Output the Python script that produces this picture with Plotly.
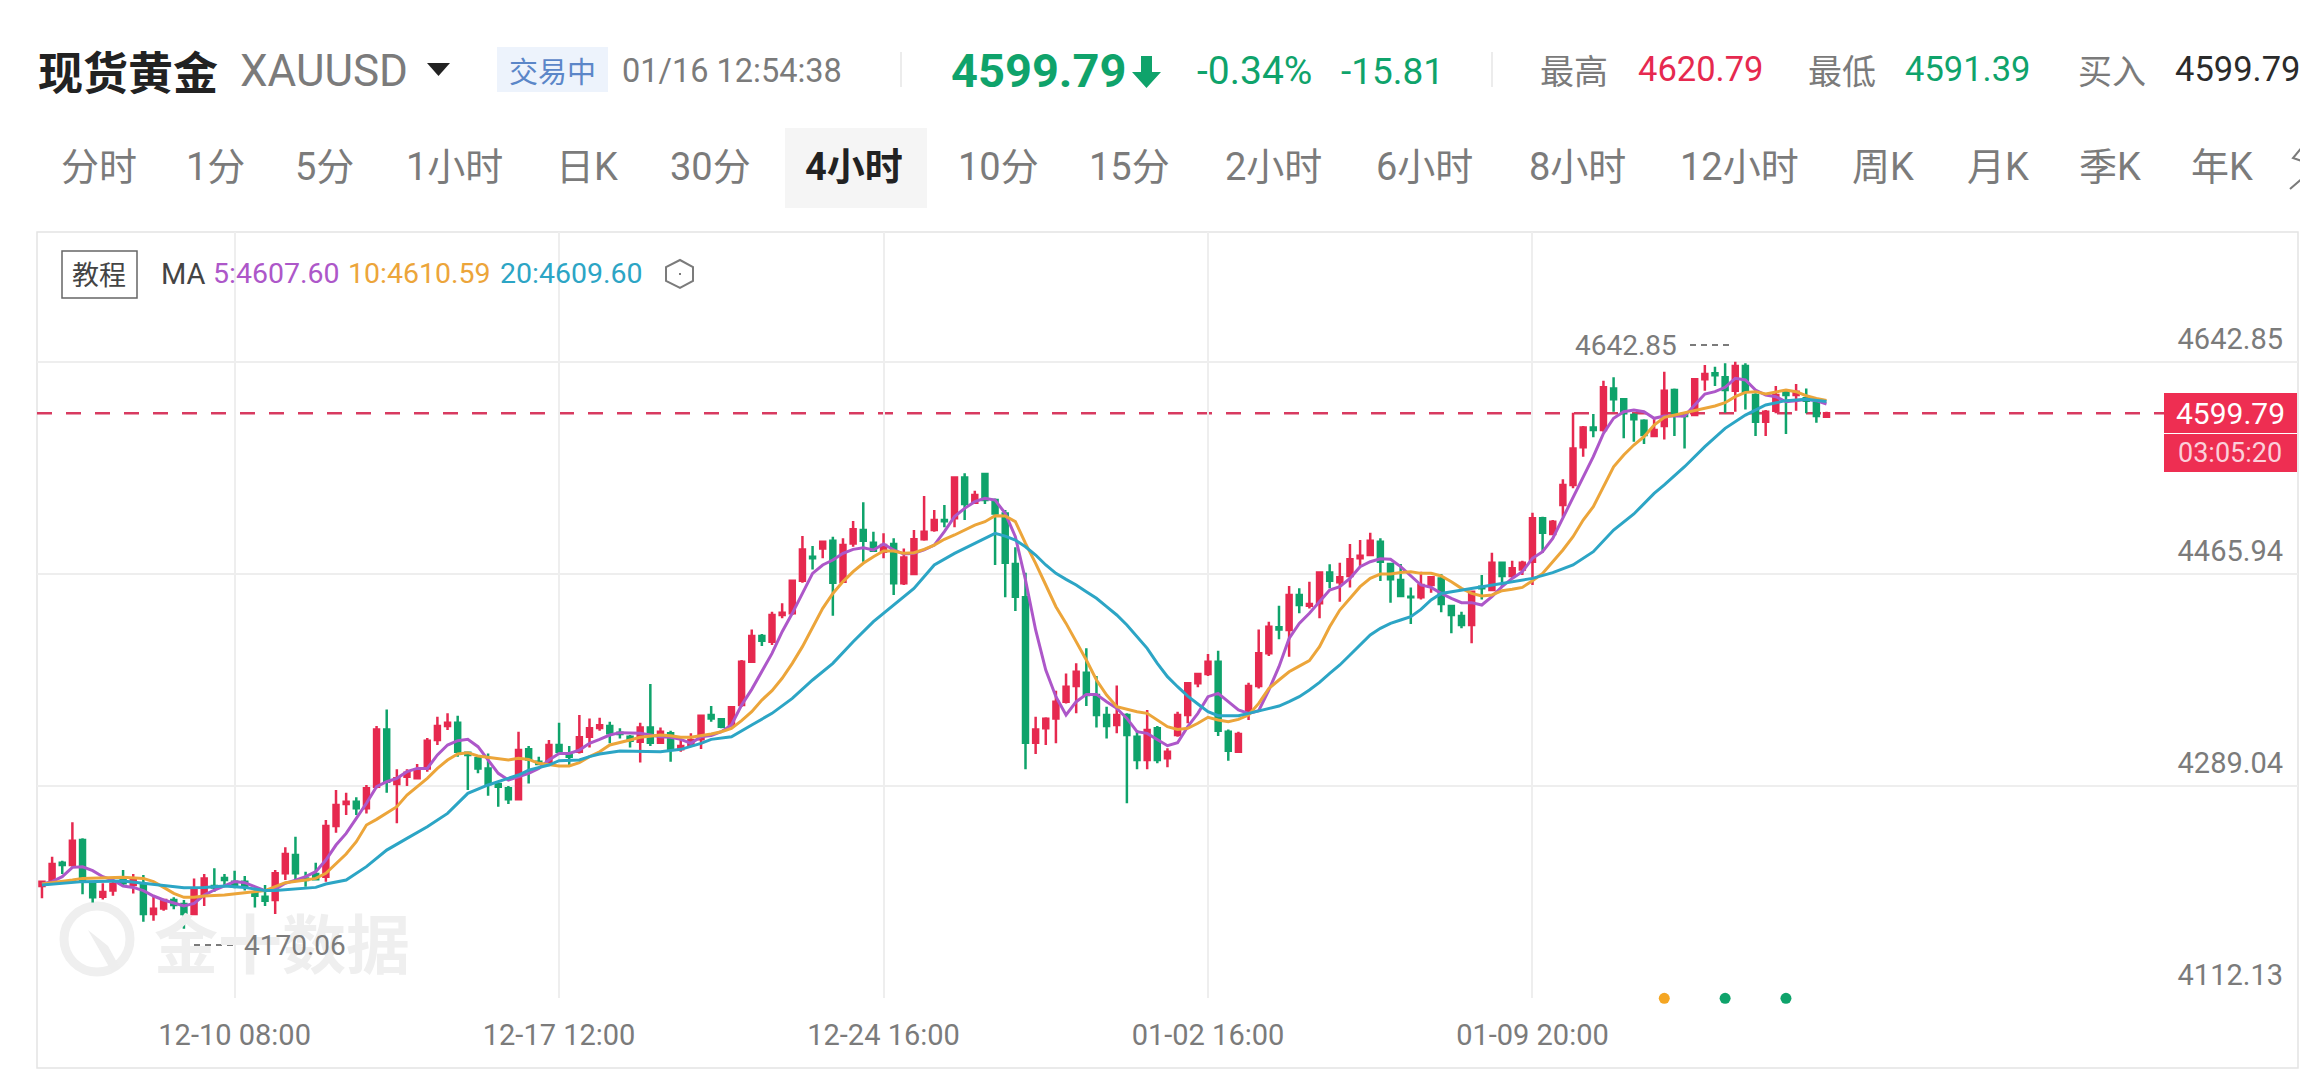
"""XAUUSD 4h candles with MA lines, trading terminal look."""
import plotly.graph_objects as go

# the page body keeps its 8px margin, so the figure is 8px smaller and shifted
W, H = 2300, 1072
PAGE = 8
FONT = "Roboto, Noto Sans CJK SC, sans-serif"
CJK = "Noto Sans CJK SC, sans-serif"

GRAY = "#7b7b7b"
RED = "#e6294f"
GREEN = "#0fa36b"
PURPLE = "#ad57c9"
ORANGE = "#eca53a"
TEAL = "#2ca5c5"

opens = [
    4205.7, 4210.2, 4225.2, 4223.2, 4244.1, 4207.4, 4196.8, 4201.9, 4211.3, 4206.6, 4206.6, 4182.4, 4187.1, 4194.1, 4190.7,
    4182.4, 4198.2, 4205.7, 4212.4, 4209.4, 4209.4, 4200.5, 4196.8, 4194.1, 4216.3, 4231.6, 4212.1, 4215.7, 4213.5, 4255.8,
    4274.1, 4276.0, 4270.5, 4288.6, 4336.3, 4290.8, 4296.9, 4295.5, 4303.8, 4327.5, 4339.1, 4341.9, 4316.9, 4312.2, 4303.8,
    4290.8, 4287.2, 4278.0, 4319.7, 4309.4, 4308.0, 4323.3, 4315.0, 4317.7, 4330.2, 4337.5, 4339.1, 4333.6, 4330.2, 4326.1,
    4338.0, 4325.2, 4333.0, 4319.7, 4323.3, 4328.0, 4348.3, 4344.7, 4340.0, 4356.6, 4392.8, 4414.2, 4409.4, 4431.7, 4433.1,
    4460.3, 4480.3, 4487.2, 4493.6, 4459.5, 4491.4, 4502.5, 4492.0, 4484.5, 4490.9, 4458.1, 4465.8, 4494.8, 4502.5, 4510.9,
    4512.3, 4546.4, 4525.3, 4549.2, 4527.5, 4516.4, 4474.2, 4446.4, 4325.2, 4337.2, 4345.5, 4359.4, 4372.5, 4383.6, 4365.0,
    4348.3, 4340.0, 4348.3, 4330.2, 4310.8, 4337.2, 4312.2, 4331.6, 4348.3, 4374.7, 4382.5, 4392.8, 4334.4, 4317.7, 4351.1,
    4372.5, 4399.7, 4421.4, 4419.2, 4448.3, 4439.4, 4441.4, 4467.2, 4458.9, 4464.2, 4478.9, 4481.7, 4492.8, 4474.2, 4460.9,
    4446.9, 4446.4, 4456.7, 4462.2, 4439.2, 4430.8, 4423.3, 4455.3, 4452.5, 4475.3, 4464.2, 4469.7, 4476.1, 4512.3, 4499.2,
    4523.4, 4540.1, 4571.5, 4588.1, 4585.9, 4620.6, 4611.5, 4598.4, 4593.7, 4580.9, 4589.2, 4619.3, 4599.8, 4598.4, 4628.2,
    4633.2, 4629.8, 4618.7, 4639.3, 4615.1, 4592.9, 4602.0, 4617.9, 4615.1, 4612.3, 4608.7, 4597.0,
]
highs = [
    4210.2, 4230.2, 4226.9, 4258.8, 4245.5, 4208.0, 4208.0, 4210.7, 4219.1, 4215.7, 4214.9, 4198.2, 4194.6, 4196.3, 4194.1,
    4212.1, 4215.7, 4220.5, 4215.7, 4218.5, 4214.1, 4202.4, 4206.6, 4219.1, 4238.0, 4246.9, 4217.7, 4225.2, 4260.8, 4285.8,
    4283.6, 4279.7, 4289.9, 4339.1, 4353.0, 4303.0, 4303.0, 4307.4, 4329.1, 4346.9, 4349.7, 4347.7, 4317.7, 4313.0, 4316.3,
    4291.3, 4289.1, 4334.4, 4322.5, 4313.6, 4327.5, 4341.9, 4322.5, 4348.3, 4345.5, 4346.1, 4342.7, 4337.2, 4331.6, 4341.9,
    4374.1, 4338.0, 4335.2, 4327.5, 4333.0, 4348.3, 4355.8, 4345.5, 4355.2, 4394.2, 4419.7, 4415.8, 4434.4, 4441.4, 4460.9,
    4497.5, 4489.2, 4493.6, 4497.0, 4495.6, 4510.0, 4525.6, 4501.2, 4499.8, 4495.6, 4487.2, 4502.5, 4530.9, 4519.2, 4523.4,
    4547.0, 4549.8, 4535.3, 4549.2, 4528.9, 4519.2, 4488.1, 4467.0, 4346.9, 4346.4, 4368.6, 4383.0, 4391.4, 4403.9, 4380.8,
    4355.2, 4373.0, 4349.7, 4335.8, 4352.5, 4339.1, 4320.5, 4351.1, 4375.3, 4383.0, 4399.2, 4401.9, 4336.3, 4334.4, 4375.3,
    4419.7, 4426.1, 4439.4, 4455.8, 4453.9, 4459.5, 4467.8, 4473.9, 4475.3, 4490.9, 4494.2, 4500.3, 4495.6, 4474.8, 4474.2,
    4454.7, 4467.8, 4463.6, 4465.8, 4440.0, 4434.5, 4451.1, 4465.0, 4483.6, 4476.1, 4477.0, 4477.0, 4517.0, 4513.7, 4510.9,
    4544.8, 4600.4, 4589.2, 4599.3, 4627.0, 4629.8, 4611.5, 4599.8, 4594.8, 4596.5, 4634.5, 4620.6, 4599.8, 4629.0, 4640.1,
    4638.7, 4641.5, 4642.85, 4641.5, 4616.5, 4602.6, 4622.6, 4619.3, 4624.3, 4620.6, 4609.5, 4601.2,
]
lows = [
    4195.5, 4208.0, 4215.7, 4221.8, 4198.8, 4192.1, 4194.6, 4197.7, 4205.2, 4199.6, 4176.0, 4176.8, 4185.2, 4186.3, 4170.06,
    4182.4, 4189.1, 4201.0, 4205.7, 4203.8, 4201.9, 4187.9, 4189.1, 4182.4, 4210.7, 4209.4, 4205.2, 4210.7, 4209.4, 4250.2,
    4264.9, 4264.9, 4266.3, 4287.2, 4283.6, 4258.0, 4289.1, 4295.5, 4301.1, 4323.3, 4335.8, 4313.6, 4285.8, 4299.7, 4281.1,
    4271.9, 4274.1, 4277.4, 4291.3, 4306.6, 4306.6, 4316.9, 4306.6, 4316.3, 4321.3, 4335.2, 4324.7, 4328.8, 4321.3, 4308.8,
    4322.5, 4324.7, 4309.4, 4317.7, 4322.5, 4319.9, 4342.7, 4337.2, 4338.6, 4355.2, 4391.9, 4405.8, 4406.7, 4428.9, 4431.7,
    4458.6, 4469.7, 4478.9, 4431.1, 4458.6, 4488.6, 4476.1, 4484.5, 4478.9, 4448.3, 4456.7, 4465.0, 4493.6, 4501.2, 4504.8,
    4504.8, 4510.9, 4524.2, 4524.2, 4473.4, 4446.4, 4435.0, 4303.0, 4315.8, 4323.3, 4324.7, 4358.0, 4349.7, 4355.8, 4338.0,
    4328.8, 4333.0, 4274.7, 4303.0, 4303.0, 4308.0, 4304.7, 4330.2, 4341.4, 4371.4, 4380.8, 4330.8, 4310.2, 4317.7, 4344.1,
    4370.5, 4397.5, 4411.4, 4396.9, 4433.1, 4437.2, 4428.9, 4453.9, 4442.8, 4454.7, 4472.0, 4480.9, 4460.0, 4441.9, 4446.9,
    4424.2, 4444.7, 4450.3, 4433.9, 4416.4, 4420.6, 4408.1, 4444.7, 4452.0, 4455.3, 4462.2, 4465.0, 4456.7, 4483.6, 4498.4,
    4513.7, 4537.3, 4563.7, 4579.8, 4584.5, 4601.2, 4579.0, 4576.2, 4574.2, 4580.4, 4578.1, 4580.9, 4570.6, 4597.6, 4618.7,
    4622.6, 4600.4, 4601.2, 4603.1, 4580.9, 4580.9, 4599.8, 4582.6, 4602.0, 4599.8, 4592.0, 4596.5,
]
closes = [
    4209.4, 4224.1, 4223.2, 4243.5, 4210.7, 4196.3, 4200.7, 4207.4, 4208.0, 4210.7, 4182.4, 4186.8, 4194.1, 4189.9, 4182.4,
    4202.4, 4212.1, 4204.6, 4210.7, 4205.2, 4205.2, 4197.7, 4193.5, 4216.3, 4232.4, 4216.3, 4210.7, 4211.3, 4255.8, 4273.3,
    4276.0, 4270.5, 4287.2, 4336.3, 4292.7, 4295.5, 4300.2, 4302.4, 4326.9, 4339.1, 4341.9, 4317.7, 4314.9, 4303.8, 4290.8,
    4288.6, 4278.0, 4319.1, 4311.3, 4307.5, 4323.3, 4317.7, 4313.6, 4329.7, 4337.2, 4339.7, 4333.0, 4332.5, 4326.9, 4338.0,
    4325.2, 4334.4, 4319.7, 4322.5, 4327.5, 4347.7, 4345.5, 4338.6, 4354.7, 4392.8, 4414.2, 4410.3, 4431.7, 4433.6, 4460.3,
    4486.4, 4478.9, 4492.8, 4458.6, 4490.0, 4503.1, 4493.6, 4485.3, 4490.0, 4458.1, 4479.7, 4494.8, 4501.2, 4510.9, 4509.8,
    4546.4, 4524.2, 4531.7, 4527.5, 4516.4, 4475.3, 4446.9, 4325.2, 4336.3, 4345.2, 4359.4, 4371.9, 4384.4, 4365.0, 4348.3,
    4339.1, 4348.3, 4331.6, 4310.8, 4335.8, 4310.8, 4317.7, 4348.3, 4374.7, 4382.5, 4392.8, 4335.2, 4318.6, 4332.5, 4372.5,
    4399.7, 4421.9, 4419.7, 4448.3, 4440.0, 4440.8, 4467.2, 4460.3, 4463.1, 4478.1, 4481.1, 4493.6, 4476.1, 4461.4, 4447.5,
    4446.4, 4456.7, 4463.1, 4440.8, 4431.7, 4423.3, 4451.1, 4453.9, 4475.3, 4464.2, 4470.6, 4475.3, 4512.3, 4500.3, 4509.5,
    4540.1, 4570.6, 4588.1, 4585.9, 4621.5, 4611.5, 4599.8, 4594.8, 4581.7, 4585.9, 4618.7, 4599.8, 4597.6, 4628.2, 4632.6,
    4631.5, 4619.3, 4639.3, 4617.9, 4592.9, 4601.2, 4615.1, 4615.1, 4617.9, 4610.4, 4597.6, 4599.79,
]
candle_idx = list(range(len(closes)))

ma5 = [
    4207.4, 4209.4, 4213.5, 4221.3, 4221.8, 4218.5, 4213.5, 4210.7, 4205.7, 4204.6, 4201.9, 4197.4, 4194.1, 4191.3, 4189.1,
    4191.3, 4198.2, 4202.4, 4205.7, 4209.4, 4208.5, 4205.2, 4201.9, 4203.0, 4208.0, 4210.7, 4213.5, 4217.7, 4227.4, 4239.9,
    4249.6, 4262.2, 4274.7, 4288.6, 4292.7, 4295.5, 4301.1, 4303.8, 4303.8, 4315.0, 4323.3, 4326.9, 4328.0, 4321.9, 4310.8,
    4299.7, 4294.1, 4296.9, 4299.7, 4303.8, 4310.8, 4316.3, 4316.3, 4319.1, 4324.7, 4328.0, 4331.6, 4333.6, 4333.0, 4333.0,
    4331.6, 4330.2, 4329.7, 4328.0, 4324.7, 4330.2, 4331.3, 4334.4, 4340.0, 4356.6, 4369.7, 4384.4, 4399.7, 4417.8, 4433.1,
    4449.7, 4466.4, 4473.4, 4477.5, 4483.1, 4486.4, 4487.8, 4485.9, 4490.9, 4485.9, 4482.5, 4483.1, 4485.9, 4490.0, 4501.2,
    4513.7, 4520.6, 4526.2, 4528.9, 4527.5, 4516.4, 4497.0, 4460.9, 4419.2, 4385.8, 4363.6, 4348.3, 4359.4, 4365.5, 4365.5,
    4359.4, 4353.9, 4345.5, 4334.4, 4333.0, 4327.5, 4322.7, 4325.2, 4338.6, 4349.7, 4363.6, 4366.4, 4359.4, 4352.5, 4349.7,
    4351.9, 4369.1, 4388.6, 4412.2, 4424.7, 4433.1, 4442.8, 4452.5, 4455.3, 4462.2, 4472.0, 4476.1, 4478.6, 4478.1, 4472.0,
    4464.2, 4456.7, 4454.7, 4449.7, 4445.6, 4442.0, 4442.0, 4440.0, 4447.0, 4455.3, 4462.2, 4467.8, 4478.9, 4484.5, 4495.6,
    4512.3, 4530.3, 4547.0, 4563.7, 4583.1, 4595.7, 4601.2, 4602.6, 4601.2, 4595.7, 4597.6, 4597.6, 4597.6, 4606.8, 4615.9,
    4617.9, 4621.5, 4629.0, 4627.6, 4619.3, 4615.1, 4613.7, 4609.5, 4610.4, 4611.5, 4610.4, 4607.60,
]

ma10_idx = [0, 2] + list(range(3, 5)) + [6, 8] + list(range(10, 17)) + [18, 20, 22, 23, 24, 26] + list(range(27, 177))
ma10 = [
    4207.4, 4209.4, 4210.7, 4212.1, 4212.7, 4213.0, 4212.1, 4209.4, 4204.6, 4199.6, 4196.3, 4196.3, 4197.4, 4198.2, 4200.2,
    4201.9, 4205.2, 4208.5, 4210.7, 4212.1, 4216.3, 4224.6, 4232.4, 4242.7, 4256.6, 4261.3, 4266.3, 4271.9, 4281.6, 4288.6,
    4295.5, 4303.8, 4310.8, 4315.8, 4316.9, 4314.1, 4313.0, 4311.6, 4310.8, 4312.2, 4311.3, 4308.0, 4306.6, 4305.8, 4305.8,
    4308.6, 4313.6, 4317.7, 4323.3, 4325.2, 4327.5, 4329.7, 4330.8, 4331.6, 4331.1, 4329.7, 4329.7, 4330.8, 4332.5, 4334.4,
    4337.2, 4343.6, 4351.1, 4360.8, 4368.6, 4378.9, 4391.4, 4405.3, 4421.9, 4437.2, 4449.7, 4459.5, 4467.8, 4474.8, 4480.3,
    4485.0, 4485.0, 4483.1, 4483.6, 4486.4, 4490.0, 4494.8, 4498.4, 4502.5, 4506.7, 4509.5, 4514.5, 4514.2, 4509.5, 4491.4,
    4474.8, 4456.7, 4438.6, 4424.7, 4409.4, 4394.2, 4377.5, 4365.0, 4355.2, 4353.0, 4351.1, 4349.7, 4344.1, 4338.6, 4336.3,
    4337.2, 4341.4, 4346.4, 4344.1, 4342.7, 4344.7, 4348.3, 4358.0, 4370.5, 4377.5, 4384.4, 4389.1, 4393.6, 4405.3, 4421.9,
    4435.8, 4445.6, 4455.3, 4462.2, 4465.8, 4465.8, 4467.2, 4467.8, 4466.4, 4466.4, 4464.2, 4459.4, 4453.9, 4449.7, 4447.5,
    4448.4, 4452.0, 4453.1, 4454.7, 4460.3, 4466.4, 4476.1, 4485.9, 4497.0, 4510.9, 4522.0, 4538.7, 4555.3, 4565.1, 4573.4,
    4580.4, 4590.1, 4596.5, 4598.4, 4600.4, 4602.6, 4604.0, 4605.9, 4608.7, 4613.7, 4617.3, 4617.9, 4615.9, 4617.9, 4619.3,
    4617.9, 4614.5, 4612.3, 4610.59,
]

ma20_idx = [
    0, 4, 8, 10, 12, 14, 16, 18, 20, 22, 23, 25, 27, 28, 30, 32, 34, 36, 38, 40, 42, 44, 46, 47, 48, 50, 51, 53, 54, 55,
    57, 59, 61, 63, 65, 66, 68, 70, 72, 74, 76, 78, 80, 82, 84, 86, 88, 90, 92, 94, 95, 96, 97, 98, 99, 100, 101, 102,
    103, 104, 105, 106, 107, 108, 109, 110, 111, 112, 113, 114, 115, 116, 118, 119, 120, 121, 122, 123, 124, 125, 126,
    127, 128, 129, 130, 131, 132, 133, 134, 135, 136, 137, 138, 139, 141, 143, 145, 147, 149, 151, 153, 155, 157, 159,
    160, 162, 164, 166, 168, 170, 172, 174, 176,
]
ma20 = [
    4206.6, 4209.4, 4209.9, 4208.0, 4205.7, 4204.3, 4204.6, 4205.7, 4204.6, 4201.9, 4201.9, 4203.0, 4204.6, 4207.4, 4210.7,
    4221.9, 4235.7, 4245.5, 4255.2, 4266.3, 4283.0, 4290.0, 4295.5, 4298.3, 4302.4, 4306.6, 4310.2, 4310.8, 4313.6, 4315.8,
    4318.3, 4318.3, 4317.7, 4319.7, 4324.7, 4328.0, 4330.2, 4340.0, 4349.7, 4362.2, 4377.5, 4391.4, 4409.4, 4426.1, 4440.0,
    4453.9, 4473.4, 4483.1, 4491.4, 4499.8, 4497.5, 4494.2, 4488.6, 4481.7, 4473.4, 4466.4, 4461.4, 4456.7, 4451.1, 4445.6,
    4438.6, 4431.7, 4423.3, 4413.6, 4403.9, 4391.4, 4380.3, 4371.9, 4364.1, 4357.5, 4351.1, 4347.7, 4347.7, 4349.7, 4351.9,
    4353.9, 4355.8, 4359.4, 4363.6, 4369.1, 4375.5, 4383.0, 4390.0, 4398.3, 4406.7, 4415.0, 4420.6, 4424.7, 4427.5, 4430.3,
    4436.4, 4444.2, 4449.7, 4451.1, 4453.9, 4456.7, 4458.9, 4462.2, 4467.0, 4473.4, 4484.5, 4502.5, 4515.9, 4533.1, 4540.1,
    4555.3, 4572.0, 4587.3, 4598.4, 4606.8, 4610.4, 4611.5, 4609.60,
]

x_tick_idx = [19, 51, 83, 115, 147]
x_tick_text = ["12-10 08:00", "12-17 12:00", "12-24 16:00", "01-02 16:00", "01-09 20:00"]
y_ticks = [4112.13, 4289.04, 4465.94, 4642.85]
y_tick_text = ["4112.13", "4289.04", "4465.94", "4642.85"]
last_price = 4599.79
event_idx = [160, 166, 172]
event_colors = ["#f5a623", GREEN, GREEN]

periods = ["分时", "1分", "5分", "1小时", "日K", "30分", "4小时", "10分", "15分", "2小时", "6小时", "8小时", "12小时", "周K", "月K", "季K", "年K"]
period_x = [99, 215, 324, 454, 587, 710, 857, 998, 1129, 1273, 1424, 1578, 1739, 1883, 1998, 2110, 2222]


def px(x):
    return (x - PAGE) / W


def py(y):
    return 1 - (y - PAGE) / H


annotations = []
shapes = []


def label(text, x, y, size, color, anchor="left", family=FONT):
    annotations.append(dict(
        text=text, x=px(x), y=py(y), xref="paper", yref="paper", xanchor=anchor, yanchor="middle",
        showarrow=False, font=dict(size=size, color=color, family=family),
    ))


def rect(x0, y0, x1, y1, fill=None, line=None, layer="below"):
    shapes.append(dict(
        type="rect", xref="paper", yref="paper", x0=px(x0), y0=py(y0), x1=px(x1), y1=py(y1),
        fillcolor=fill or "rgba(0,0,0,0)", line=dict(color=line or "rgba(0,0,0,0)", width=1.5 if line else 0), layer=layer,
    ))


def poly(points, fill=None, line=None, close=True, width=2):
    path = "M " + " L ".join(f"{px(a):.5f},{py(b):.5f}" for a, b in points) + (" Z" if close else "")
    shapes.append(dict(
        type="path", xref="paper", yref="paper", path=path, fillcolor=fill or "rgba(0,0,0,0)",
        line=dict(color=line or "rgba(0,0,0,0)", width=width if line else 0), layer="above",
    ))


def dashes(x0, x1, y):
    shapes.append(dict(type="line", xref="paper", yref="paper", x0=px(x0), x1=px(x1), y0=py(y), y1=py(y),
                       line=dict(color=GRAY, width=2, dash="6px,5px")))


fig = go.Figure()
fig.add_trace(go.Candlestick(
    x=candle_idx, open=opens, high=highs, low=lows, close=closes, whiskerwidth=0,
    increasing=dict(line=dict(color=RED, width=2.5), fillcolor=RED),
    decreasing=dict(line=dict(color=GREEN, width=2.5), fillcolor=GREEN),
    showlegend=False,
))
fig.add_trace(go.Scatter(x=candle_idx, y=ma5, mode="lines", line=dict(color=PURPLE, width=3), showlegend=False))
fig.add_trace(go.Scatter(x=ma10_idx, y=ma10, mode="lines", line=dict(color=ORANGE, width=3), showlegend=False))
fig.add_trace(go.Scatter(x=ma20_idx, y=ma20, mode="lines", line=dict(color=TEAL, width=3), showlegend=False))
fig.add_trace(go.Scatter(
    x=event_idx, y=[y_ticks[0]] * len(event_idx), mode="markers", cliponaxis=False,
    marker=dict(color=event_colors, size=11), showlegend=False,
))

# frame
rect(37, 232, 2298, 1068, line="#e4e4e4")
shapes.append(dict(type="line", xref="paper", yref="y", x0=px(37), x1=px(2164), y0=last_price, y1=last_price,
                   line=dict(color="#d83a60", width=2.5, dash="15px,14px"), layer="below"))

# header row
label("<b>现货黄金</b>", 36, 70, 45, "#222222", family=CJK)
label("XAUUSD", 238, 71, 44, GRAY)
poly([(427, 63), (450, 63), (438.5, 76)], fill="#222222")
rect(497, 47, 608, 92, fill="#edf3fc")
label("交易中", 552, 70, 29, "#5b86c8", "center", CJK)
label("01/16 12:54:38", 620, 71, 32.5, GRAY)
shapes.append(dict(type="line", xref="paper", yref="paper", x0=px(901), x1=px(901), y0=py(52), y1=py(87), line=dict(color="#e6e6e6", width=1.5)))
label("<b>4599.79</b>", 949, 70, 47, GREEN)
poly([(1141, 56), (1152, 56), (1152, 72), (1161, 72), (1146.5, 88), (1132, 72), (1141, 72)], fill=GREEN)
label("-0.34%", 1195, 71, 39, GREEN)
label("-15.81", 1339, 71, 37, GREEN)
shapes.append(dict(type="line", xref="paper", yref="paper", x0=px(1492), x1=px(1492), y0=py(52), y1=py(87), line=dict(color="#e6e6e6", width=1.5)))
label("最高", 1538, 69, 34, GRAY, family=CJK)
label("4620.79", 1636, 69, 34.5, RED)
label("最低", 1806, 69, 34, GRAY, family=CJK)
label("4591.39", 1903, 69, 34.5, GREEN)
label("买入", 2076, 69, 34, GRAY, family=CJK)
label("4599.79", 2173, 69, 34.5, "#2b2b2b")

# period tabs
rect(785, 128, 927, 208, fill="#f5f5f5")
for name, cx in zip(periods, period_x):
    if name == "4小时":
        label("<b>4小时</b>", cx - 3, 167, 38, "#222222", "center", FONT)
    else:
        label(name, cx, 167, 38, GRAY, "center", FONT)
poly([(2308, 140), (2293, 158), (2308, 163)], line=GRAY, close=False)
poly([(2290, 189), (2305, 176), (2308, 180)], line=GRAY, close=False)

# MA legend
rect(62, 251, 137, 298, line="#666666")
label("教程", 99, 274, 27, "#444444", "center", CJK)
label("MA", 159, 274, 29, "#444444")
label("5:4607.60", 211, 274, 28.5, PURPLE)
label("10:4610.59", 346, 274, 28.5, ORANGE)
label("20:4609.60", 498, 274, 28.5, TEAL)
poly([(680, 260), (693, 267), (693, 281), (680, 288), (666, 281), (666, 267)], line=GRAY)
poly([(679, 273), (681, 273), (681, 275), (679, 275)], fill=GRAY)

# watermark
shapes.append(dict(type="circle", xref="paper", yref="paper", x0=px(64), x1=px(130), y0=py(906), y1=py(972),
                   line=dict(color="#efefef", width=9), layer="below"))
poly([(88, 930), (112, 972), (120, 968), (108, 946)], fill="#eeeeee")
label("<b>金十数据</b>", 152, 940, 64, "#efefef", family=CJK)

# high / low markers
label("4642.85", 1573, 345, 28, GRAY)
dashes(1690, 1730, 345)
dashes(183, 237, 945)
label("4170.06", 242, 945, 28, GRAY)

# last price tag
rect(2164, 393, 2297, 433, fill="#ee2e52", layer="above")
rect(2164, 434, 2297, 472, fill="#ee2e52", layer="above")
label("4599.79", 2230, 413, 30, "#ffffff", "center")
label("03:05:20", 2230, 453, 27, "#fbd0da", "center")

fig.update_layout(
    width=W, height=H, margin=dict(l=0, r=0, t=0, b=0), paper_bgcolor="#ffffff", plot_bgcolor="#ffffff",
    font=dict(family=FONT), annotations=annotations, shapes=shapes, showlegend=False,
    xaxis=dict(
        domain=[px(37), px(2298)], range=[-0.49, 222.5], rangeslider=dict(visible=False), tickmode="array",
        tickvals=x_tick_idx, ticktext=x_tick_text, showgrid=True, gridcolor="#eeeeee", gridwidth=1.5, zeroline=False,
        ticks="", tickfont=dict(size=29, color=GRAY, family=FONT), ticklabelstandoff=17,
    ),
    yaxis=dict(
        domain=[py(998.3), py(232)], range=[4112.13, 4751], side="right", tickmode="array",
        tickvals=y_ticks, ticktext=y_tick_text, showgrid=True, gridcolor="#eeeeee", gridwidth=1.5, zeroline=False,
        ticks="", ticklabelposition="inside top", ticklabelstandoff=12, ticklabelshift=-3,
        tickfont=dict(size=29, color=GRAY, family=FONT),
    ),
)

fig.write_html("out.html")
